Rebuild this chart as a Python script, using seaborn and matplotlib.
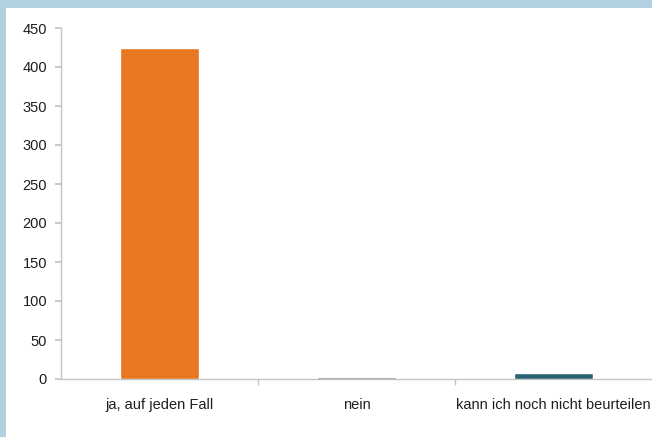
import matplotlib
matplotlib.use("Agg")
import matplotlib.pyplot as plt
import seaborn as sns
import pandas as pd
from matplotlib.patches import Rectangle

categories = ["ja, auf jeden Fall", "nein", "kann ich noch nicht beurteilen"]
values = [424, 2, 8]
colors = ["#E87722", "#6F7F89", "#2A6474"]

sns.set_theme(style="white")
plt.rcParams['font.family'] = ['Liberation Sans', 'DejaVu Sans']

W, H = 652, 437
fig = plt.figure(figsize=(W / 100, H / 100), dpi=100)
fig.patch.set_facecolor("#B1D1E1")
fig.patches.append(Rectangle((6 / W, 0), 1, (H - 8) / H, transform=fig.transFigure,
                             facecolor="white", edgecolor="none", zorder=-10))

ax = fig.add_axes([61 / W, 58 / H, (3 * 197) / W, (379 - 28) / H])
ax.set_zorder(5)
ax.set_facecolor("none")
ax.set_axisbelow(True)
df = pd.DataFrame({"cat": categories, "val": values})
sns.barplot(data=df, x="cat", y="val", hue="cat", palette=colors, width=0.4,
            legend=False, ax=ax, saturation=1, zorder=3)
ax.set_ylim(0, 450)
ax.set_xlim(-0.5, 2.5)
ax.set_yticks(range(0, 451, 50))
ax.set_xticks([0.5, 1.5], minor=True)
ax.set_xlabel("")
ax.set_ylabel("")
for s in ["top", "right"]:
    ax.spines[s].set_visible(False)
for s in ["left", "bottom"]:
    ax.spines[s].set_color("#C4C4C4")
    ax.spines[s].set_linewidth(1)
    ax.spines[s].set_zorder(1)
ax.tick_params(axis="y", which="major", left=True, length=4, color="#C4C4C4",
               labelsize=10.5, labelcolor="#1E1E1E", pad=6)
ax.tick_params(axis="x", which="major", bottom=False, labelsize=10.5,
               labelcolor="#1E1E1E", pad=8)
ax.tick_params(axis="x", which="minor", bottom=True, length=4, color="#C4C4C4")

fig.savefig("out.png", dpi=100, facecolor=fig.get_facecolor())
